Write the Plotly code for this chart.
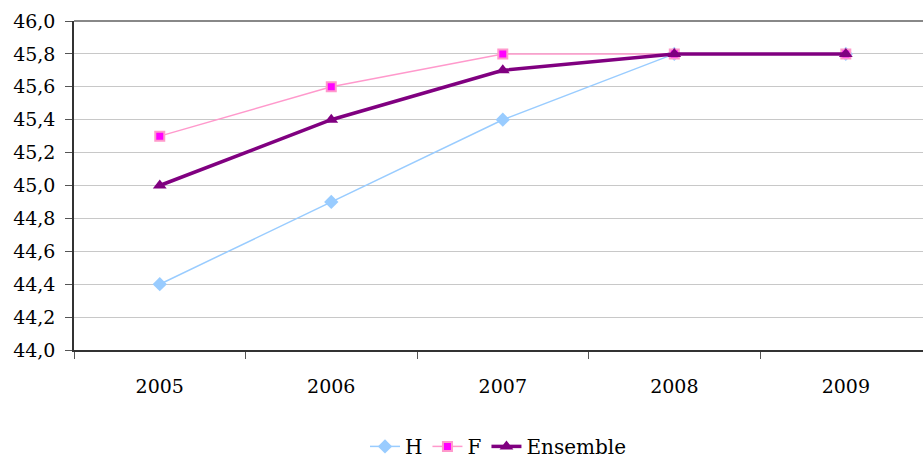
import plotly.graph_objects as go

years = ["2005", "2006", "2007", "2008", "2009"]
h_vals = [44.4, 44.9, 45.4, 45.8, 45.8]
f_vals = [45.3, 45.6, 45.8, 45.8, 45.8]
ens_vals = [45.0, 45.4, 45.7, 45.8, 45.8]

fig = go.Figure()
fig.add_trace(go.Scatter(x=years, y=h_vals, name="H", mode="lines+markers",
                         line=dict(color="#99CCFF", width=1.5),
                         marker=dict(symbol="diamond", size=11, color="#99CCFF")))
fig.add_trace(go.Scatter(x=years, y=f_vals, name="F", mode="lines+markers",
                         line=dict(color="#FF99CC", width=1.5),
                         marker=dict(symbol="square", size=9, color="#FF00FF",
                                     line=dict(color="#FF99CC", width=2))))
fig.add_trace(go.Scatter(x=years, y=ens_vals, name="Ensemble", mode="lines+markers",
                         line=dict(color="#800080", width=3.5),
                         marker=dict(symbol="triangle-up", size=12, color="#800080")))

serif = "DejaVu Serif"
font = dict(family=serif, size=19, color="#000000")
fig.update_layout(
    width=923, height=465,
    margin=dict(l=74, r=0, t=21, b=115, autoexpand=False),
    paper_bgcolor="white", plot_bgcolor="white",
    font=font,
    separators=", ",
    showlegend=True,
    legend=dict(orientation="h", x=0.5, xanchor="center", yref="container",
                y=0.04, yanchor="middle",
                font=dict(family=serif, size=20, color="#000000"),
                traceorder="normal"),
    xaxis=dict(type="category", range=[-0.5, 4.45], showline=True, linecolor="#333333",
               linewidth=1.5, ticks="outside", tickson="boundaries", ticklen=7,
               tickcolor="#555555", showgrid=False, ticklabelstandoff=18),
    yaxis=dict(range=[44.0, 46.0], dtick=0.2, tickformat=".1f", showline=True,
               linecolor="#333333", linewidth=1.5, ticks="outside", ticklen=7,
               tickcolor="#555555", showgrid=True, gridcolor="#C8C8C8", gridwidth=1,
               zeroline=False, ticklabelstandoff=6),
    shapes=[dict(type="line", xref="paper", yref="paper", x0=0, x1=1, y0=1, y1=1,
                 line=dict(color="#888888", width=2), layer="below")],
)
fig.write_html("out.html", config={"displayModeBar": False},
               post_script="document.body.style.margin='0';document.body.style.overflow='hidden';")
